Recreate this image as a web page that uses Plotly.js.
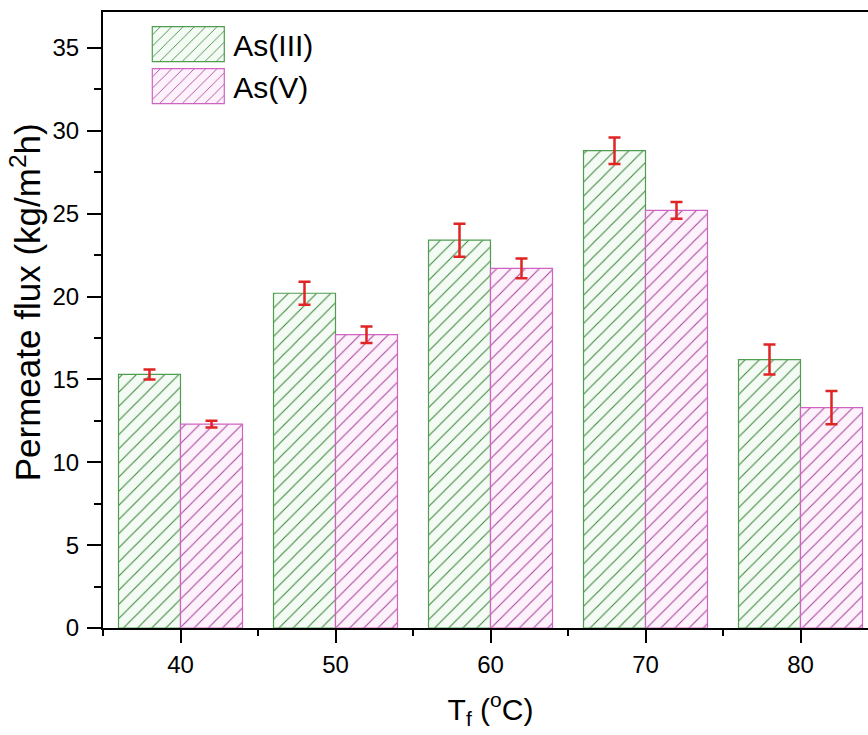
<!DOCTYPE html>
<html>
<head>
<meta charset="utf-8">
<script src="https://cdn.plot.ly/plotly-3.0.1.min.js"></script>
<style>
  html, body { margin: 0; padding: 0; overflow: hidden; background: #fff; }
  #chart { width: 880px; height: 735px; }
</style>
</head>
<body>
<div id="chart"></div>
<script>
// Feed temperature (°C)
const temperatures = [40, 50, 60, 70, 80];

// Permeate flux (kg/m²h) and standard deviations
const fluxAsIII = [15.3, 20.2, 23.4, 28.8, 16.2];
const errAsIII  = [0.3, 0.7, 1.0, 0.8, 0.9];
const fluxAsV   = [12.3, 17.7, 21.7, 25.2, 13.3];
const errAsV    = [0.2, 0.5, 0.6, 0.5, 1.0];

const seriesNames = ['As(III)', 'As(V)'];
const xTitle = 'T<sub>f</sub> (<sup>o</sup>C)';
const yTitle = 'Permeate flux (kg/m<sup>2</sup>h)';

const FONT = 'Liberation Sans, Arial, sans-serif';

const errStyle = { type: 'data', visible: true, color: '#e02424', thickness: 2.5, width: 6 };

const traces = [
  {
    type: 'bar', name: seriesNames[0], x: temperatures, y: fluxAsIII,
    error_y: Object.assign({ array: errAsIII }, errStyle),
    marker: {
      color: '#f4faf4',
      line: { color: '#4f9d4f', width: 1.2 },
      pattern: { shape: '/', fgcolor: '#3f8a3f', bgcolor: '#f4faf4', size: 10, solidity: 0.11 }
    }
  },
  {
    type: 'bar', name: seriesNames[1], x: temperatures, y: fluxAsV,
    error_y: Object.assign({ array: errAsV }, errStyle),
    marker: {
      color: '#fdf1fb',
      line: { color: '#d062c2', width: 1.2 },
      pattern: { shape: '/', fgcolor: '#a8479c', bgcolor: '#fdf1fb', size: 10, solidity: 0.11 }
    }
  }
];

const layout = {
  width: 880, height: 735,
  margin: { l: 103, r: 2, t: 12, b: 107 },
  paper_bgcolor: '#ffffff', plot_bgcolor: '#ffffff',
  font: { family: FONT, color: '#000', size: 24 },
  barmode: 'group', bargap: 0.2, bargroupgap: 0,
  showlegend: true,
  legend: {
    x: 0.052, y: 0.99, xanchor: 'left', yanchor: 'top',
    bgcolor: 'rgba(0,0,0,0)', borderwidth: 0,
    font: { family: FONT, size: 30, color: '#000' },
    itemwidth: 80, tracegroupgap: 0, traceorder: 'normal'
  },
  xaxis: {
    range: [35, 85], tickmode: 'array', tickvals: temperatures,
    ticks: 'outside', ticklen: 13, tickwidth: 2, tickcolor: '#000',
    minor: { dtick: 5, tick0: 35, ticks: 'outside', ticklen: 6, tickwidth: 2, tickcolor: '#000' },
    showline: true, linewidth: 2, linecolor: '#000', mirror: true,
    showgrid: false, zeroline: false,
    tickfont: { family: FONT, size: 24 }, ticklabelstandoff: 1,
    title: { text: xTitle, font: { family: FONT, size: 30 }, standoff: 22 }
  },
  yaxis: {
    range: [0, 37.17], dtick: 5, tick0: 0,
    ticks: 'outside', ticklen: 14, tickwidth: 2, tickcolor: '#000',
    minor: { dtick: 2.5, ticks: 'outside', ticklen: 7, tickwidth: 2, tickcolor: '#000' },
    showline: true, linewidth: 2, linecolor: '#000', mirror: true,
    showgrid: false, zeroline: false,
    tickfont: { family: FONT, size: 24 }, ticklabelstandoff: 3
  },
  annotations: [
    {
      // y-axis title, placed a little above the axis centre
      text: yTitle, textangle: -90, showarrow: false,
      xref: 'paper', yref: 'paper', x: -0.1, y: 0.528,
      xanchor: 'center', yanchor: 'middle',
      font: { family: FONT, size: 35, color: '#000' }
    }
  ]
};

Plotly.newPlot('chart', traces, layout, { displayModeBar: false, staticPlot: true }).then(function (gd) {
  // enlarge the legend swatches to wide hatched boxes
  gd.querySelectorAll('.legend .legendpoints path').forEach(function (p) {
    p.setAttribute('d', 'M36,17.5H-36V-17.5H36Z');
  });
});
</script>
</body>
</html>
